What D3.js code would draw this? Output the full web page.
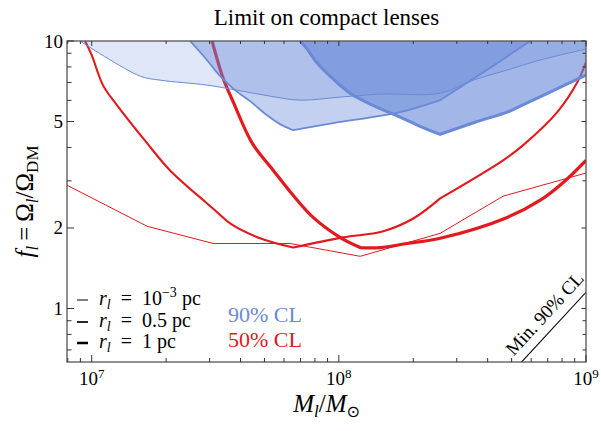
<!DOCTYPE html>
<html><head><meta charset="utf-8">
<script src="https://cdn.jsdelivr.net/npm/d3@7"></script>
<style>body{margin:0;background:#fff} svg{display:block} text{font-family:'Liberation Serif','Times New Roman',serif;fill:#000}</style>
</head><body><svg id="c" width="601" height="431"></svg>
<script>
// ---------- data ----------
// 50% CL (red), three lens radii
const massThin50 = [7.94e6, 1.675e7, 3.10e7, 6.35e7, 1.22e8, 2.57e8, 4.62e8, 1e9];
const fThin50    = [2.89, 2.03, 1.75, 1.75, 1.567, 1.91, 2.63, 3.21];
const massMid50  = [9.4e6, 1.0e7, 1.11e7, 1.265e7, 1.675e7, 2.07e7, 2.93e7, 3.22e7, 3.63e7, 4.80e7, 6.53e7, 1.04e8, 1.50e8, 2.0e8, 2.57e8, 4.62e8, 5.57e8, 7.65e8, 9.23e8, 1e9];
const fMid50     = [10, 8.86, 6.84, 5.76, 4.15, 3.29, 2.47, 2.29, 2.08, 1.83, 1.69, 1.845, 1.94, 2.17, 2.58, 3.58, 4.08, 5.42, 7.02, 8.34];
const massThick50 = [3.07e7, 3.40e7, 3.74e7, 4.46e7, 5.42e7, 6.53e7, 7.87e7, 1.01e8, 1.22e8, 1.47e8, 1.89e8, 2.57e8, 4.80e8, 6.53e8, 8.09e8, 1e9];
const fThick50    = [10, 7.27, 5.91, 4.15, 3.29, 2.65, 2.19, 1.845, 1.69, 1.69, 1.75, 1.83, 2.19, 2.54, 2.96, 3.58];
// 90% CL (blue) excluded-region boundaries
const massThin90 = [8.97e6, 1.57e7, 1.89e7, 2.93e7, 3.87e7, 5.27e7, 6.97e7, 1.01e8, 1.47e8, 2.57e8, 3.50e8, 4.80e8, 6.53e8, 1e9];
const fThin90    = [10, 7.39, 7.14, 6.84, 6.55, 6.22, 6.01, 6.17, 6.33, 6.38, 7.14, 7.79, 8.49, 9.33];
const massMid90  = [2.50e7, 2.88e7, 3.31e7, 3.80e7, 4.37e7, 5.17e7, 5.78e7, 6.53e7, 9.48e7, 1.77e8, 2.57e8, 3.91e8, 5.94e8];
const fMid90     = [10, 8.64, 7.39, 6.55, 5.96, 5.24, 4.89, 4.64, 4.93, 5.42, 6.01, 7.72, 10];
const massThick90 = [6.97e7, 7.44e7, 8.17e7, 9.48e7, 1.11e8, 1.34e8, 1.77e8, 2.13e8, 2.57e8, 3.56e8, 4.80e8, 5.42e8, 7.16e8, 1e9];
const fThick90    = [10, 9.33, 8.27, 7.21, 6.38, 5.81, 5.19, 4.80, 4.48, 4.97, 5.42, 5.71, 6.44, 7.46];
// minimum 90% CL line
const massMinLine = [5.0e8, 1e9];
const fMinLine    = [0.575, 1.15];
// ticks
const xMajorTicks = [1e7, 1e8, 1e9];
const xTickExponents = ["7", "8", "9"];
const yLabelTicks = [1, 2, 5, 10];
const yMinorTicks = [0.7, 0.8, 0.9, 3, 4, 6, 7, 8, 9];
const legendLabels = [["10", "−3"], ["0.5", ""], ["1", ""]];

// ---------- drawing ----------
const red = "#e3191d", blueLine = "#6a8ad8", blueFill = "rgb(100,135,215)";
const m = {l:67, r:586, t:41, b:362};
const x = d3.scaleLog().domain([Math.pow(10,6.9), 1e9]).range([m.l, m.r]);
const y = d3.scaleLog().domain([Math.pow(10,-0.2), 10]).range([m.b, m.t]);
const svg = d3.select('#c');
svg.append('defs').append('clipPath').attr('id','clip').append('rect')
  .attr('x',m.l).attr('y',m.t).attr('width',m.r-m.l).attr('height',m.b-m.t);
const plot = svg.append('g').attr('clip-path','url(#clip)');
const zip = (a,b)=>a.map((v,i)=>[v,b[i]]);
const lin = d3.line().x(d=>x(d[0])).y(d=>y(d[1]));
const smooth = d3.line().x(d=>x(d[0])).y(d=>y(d[1])).curve(d3.curveCatmullRom.alpha(0.5));
// path built from smooth pieces joined at sharp corners (indices in 'breaks')
function pathWithCorners(pts, breaks, gen){
  const cuts = [0].concat(breaks, [pts.length-1]);
  let s = '';
  for (let i=0;i<cuts.length-1;i++){
    const seg = pts.slice(cuts[i], cuts[i+1]+1);
    const p = (gen||smooth)(seg);
    s += i ? p.replace(/^M[^LCZ]*/, '') : p;
  }
  return s;
}

// red lines
const redLines = [
  {d: lin(zip(massThin50,fThin50)), w:1},
  {d: pathWithCorners(zip(massMid50,fMid50), [10,14]), w:2.1},
  {d: pathWithCorners(zip(massThick50,fThick50), [8]), w:3.2}
];
redLines.forEach(r=>plot.append('path').attr('d',r.d).attr('fill','none')
  .attr('stroke',red).attr('stroke-width',r.w).attr('stroke-linejoin','round'));

// blue regions
const regions = [
  {pts: zip(massThin90,fThin90), br:[], op:0.21, w:1, close:[[1e9,10]]},
  {pts: zip(massMid90,fMid90), br:[7,10], op:0.39, w:1.8, close:[]},
  {pts: zip(massThick90,fThick90), br:[8], op:0.6, w:3, close:[[1e9,10]]}
];
regions.forEach(r=>{
  let d = pathWithCorners(r.pts, r.br);
  r.outline = d;
  r.close.forEach(c=>{ d += 'L' + x(c[0]) + ',' + y(c[1]); });
  plot.append('path').attr('d',d+'Z').attr('fill',blueFill).attr('fill-opacity',r.op).attr('stroke','none');
});
regions.forEach(r=>{
  plot.append('path').attr('d',r.outline).attr('fill','none')
    .attr('stroke',blueLine).attr('stroke-width',r.w).attr('stroke-linejoin','round');
});

// min 90% CL line
plot.append('path').attr('d',lin(zip(massMinLine,fMinLine))).attr('fill','none')
  .attr('stroke','#000').attr('stroke-width',1.1);

// frame
svg.append('rect').attr('x',m.l).attr('y',m.t).attr('width',m.r-m.l).attr('height',m.b-m.t)
  .attr('fill','none').attr('stroke','#555').attr('stroke-width',1.3);

// x ticks
const xMinor = [];
[6,7,8].forEach(d=>{ for(let k=2;k<=9;k++){ const v=k*Math.pow(10,d); if(v>=x.domain()[0] && v<=1e9) xMinor.push(v);} });
const tg = svg.append('g').attr('stroke','#333').attr('stroke-width',1);
xMinor.forEach(v=>{
  tg.append('line').attr('x1',x(v)).attr('x2',x(v)).attr('y1',m.b).attr('y2',m.b-4);
  tg.append('line').attr('x1',x(v)).attr('x2',x(v)).attr('y1',m.t).attr('y2',m.t+3);
});
xMajorTicks.forEach((v,i)=>{
  tg.append('line').attr('x1',x(v)).attr('x2',x(v)).attr('y1',m.b).attr('y2',m.b-7);
  tg.append('line').attr('x1',x(v)).attr('x2',x(v)).attr('y1',m.t).attr('y2',m.t+5);
  const t = svg.append('text').attr('x',x(v)).attr('y',384.5).attr('text-anchor','middle').attr('font-size',19);
  t.append('tspan').text('10');
  t.append('tspan').attr('font-size',13).attr('dy',-7).text(xTickExponents[i]);
});
// y ticks
yMinorTicks.forEach(v=>{
  tg.append('line').attr('x1',m.l).attr('x2',m.l+4.5).attr('y1',y(v)).attr('y2',y(v));
  tg.append('line').attr('x1',m.r).attr('x2',m.r-3.5).attr('y1',y(v)).attr('y2',y(v));
});
yLabelTicks.forEach(v=>{
  tg.append('line').attr('x1',m.l).attr('x2',m.l+7).attr('y1',y(v)).attr('y2',y(v));
  tg.append('line').attr('x1',m.r).attr('x2',m.r-4.5).attr('y1',y(v)).attr('y2',y(v));
  svg.append('text').attr('x',63).attr('y',y(v)+6.5).attr('text-anchor','end').attr('font-size',19).text(v);
});

// title
svg.append('text').attr('x',(m.l+m.r)/2).attr('y',25).attr('text-anchor','middle').attr('font-size',23).text('Limit on compact lenses');

// x label
{
  const t = svg.append('text').attr('x',(m.l+m.r)/2).attr('y',412).attr('text-anchor','middle').attr('font-size',25);
  t.append('tspan').attr('font-style','italic').text('M');
  t.append('tspan').attr('font-style','italic').attr('font-size',17).attr('dy',5).text('l');
  t.append('tspan').attr('dy',-5).text('/');
  t.append('tspan').attr('font-style','italic').text('M');
  t.append('tspan').attr('font-size',16).attr('dy',5).style('font-family','DejaVu Sans').text('⊙');
}
// y label
{
  const t = svg.append('text').attr('transform',`translate(33,${(m.t+m.b)/2}) rotate(-90)`).attr('text-anchor','middle').attr('font-size',25);
  t.append('tspan').attr('font-style','italic').text('f');
  t.append('tspan').attr('font-style','italic').attr('font-size',17).attr('dy',5).text('l');
  t.append('tspan').attr('dy',-5).text('\u2009=\u2009Ω');
  t.append('tspan').attr('font-style','italic').attr('font-size',17).attr('dy',5).text('l');
  t.append('tspan').attr('dy',-5).text('/Ω');
  t.append('tspan').attr('font-size',17).attr('dy',5).text('DM');
}

// legend
const legendBase = [305, 327, 348];
const legendW = [1, 1.7, 2.5];
legendLabels.forEach((lab,i)=>{
  const b = legendBase[i];
  svg.append('line').attr('x1',77).attr('x2',88).attr('y1',b-5).attr('y2',b-5).attr('stroke','#000').attr('stroke-width',legendW[i]);
  const t = svg.append('text').attr('x',99).attr('y',b).attr('font-size',20);
  t.append('tspan').attr('font-style','italic').text('r');
  t.append('tspan').attr('font-style','italic').attr('font-size',14).attr('dy',4).text('l');
  t.append('tspan').attr('dy',-4).text('\u2002=\u2002' + lab[0]);
  if (lab[1]) {
    t.append('tspan').attr('font-size',14).attr('dy',-8).text(lab[1]);
    t.append('tspan').attr('dy',8).text(' pc');
  } else {
    t.append('tspan').text(' pc');
  }
});
svg.append('text').attr('x',228).attr('y',322).attr('font-size',22).style('fill',blueLine).text('90% CL');
svg.append('text').attr('x',228).attr('y',347).attr('font-size',22).style('fill',red).text('50% CL');

// min 90% CL label, placed along the line
{
  const ang = Math.atan2(y(fMinLine[1])-y(fMinLine[0]), x(massMinLine[1])-x(massMinLine[0]))*180/Math.PI;
  svg.append('text').attr('transform',`translate(${m.r-1},${y(fMinLine[1])-13}) rotate(${ang})`)
    .attr('text-anchor','end').attr('font-size',19).text('Min. 90% CL');
}
</script></body></html>
